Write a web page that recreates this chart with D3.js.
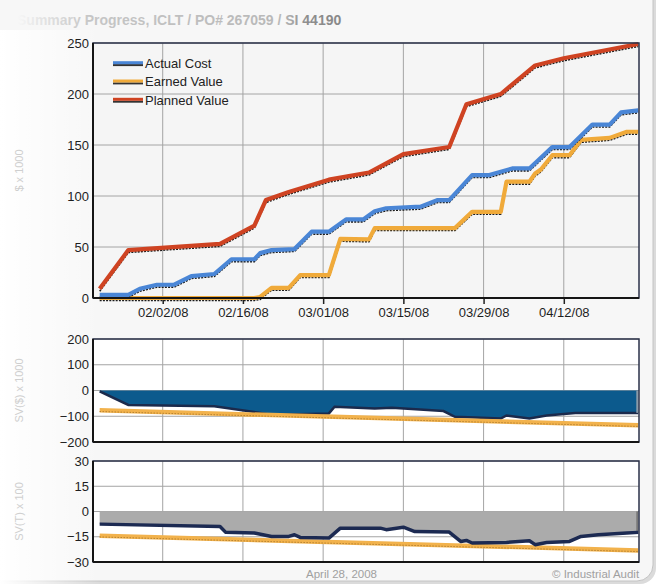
<!DOCTYPE html>
<html>
<head>
<meta charset="utf-8">
<script src="https://cdn.jsdelivr.net/npm/d3@7"></script>
<style>
  body { margin: 0; background: #fff; }
  svg { display: block; font-family: "Liberation Sans", Arial, sans-serif; }
</style>
</head>
<body>
<div id="chart"></div>
<script>
// ---- data ($ x 1000) ----
var actualCost = [["2008-01-22",3],["2008-01-27",3],["2008-01-29",9],["2008-02-01",13],["2008-02-04",13],
  ["2008-02-07",21.5],["2008-02-11",23.5],["2008-02-14",38],["2008-02-18",38],["2008-02-19",44],["2008-02-21",47],
  ["2008-02-25",48],["2008-02-28",65],["2008-03-02",65],["2008-03-05",77],["2008-03-08",77],["2008-03-10",85],
  ["2008-03-12",88],["2008-03-18",89.5],["2008-03-21",96],["2008-03-23",96],["2008-03-27",120.5],["2008-03-30",120.5],
  ["2008-04-03",127],["2008-04-06",127],["2008-04-10",148],["2008-04-13",148],["2008-04-17",170],["2008-04-20",170],
  ["2008-04-22",182],["2008-04-25",184]];
var earnedValue = [["2008-01-22",0],["2008-02-18",0],["2008-02-19",1],["2008-02-21",10],["2008-02-24",10],
  ["2008-02-26",22.5],["2008-03-02",22.5],["2008-03-04",58],["2008-03-09",57.5],["2008-03-10",68.5],["2008-03-24",68.5],
  ["2008-03-27",84.5],["2008-04-01",84.5],["2008-04-02",114],["2008-04-06",114],["2008-04-07",122],["2008-04-08",126],
  ["2008-04-10",140],["2008-04-13",140],["2008-04-15",155],["2008-04-20",157],["2008-04-23",163],["2008-04-25",163]];
var plannedValue = [["2008-01-22",9],["2008-01-27",47],["2008-02-12",53],["2008-02-18",71],["2008-02-20",96],
  ["2008-02-24",104],["2008-03-02",116],["2008-03-09",123],["2008-03-15",141],["2008-03-23",148],["2008-03-26",190],
  ["2008-04-01",200],["2008-04-07",228],["2008-04-12",235],["2008-04-25",249]];

// schedule variance, $ x 1000
var svDollar = [["2008-01-22",-3],["2008-01-27",-56],["2008-02-11",-61],["2008-02-19",-87],["2008-02-21",-95],
  ["2008-02-24",-93],["2008-03-02",-89],["2008-03-03",-63],["2008-03-10",-70],["2008-03-13",-67],["2008-03-22",-80],
  ["2008-03-24",-102],["2008-04-01",-109],["2008-04-02",-97],["2008-04-06",-109],["2008-04-09",-97],
  ["2008-04-14",-87],["2008-04-25",-87]];
var svDollarTrend = [["2008-01-22",-77],["2008-04-25",-135]];

// schedule variance, time x 100
var svTime = [["2008-01-22",-7.5],["2008-02-12",-8.9],["2008-02-13",-12.4],["2008-02-18",-12.8],["2008-02-21",-14.8],
  ["2008-02-24",-14.8],["2008-02-25",-13.8],["2008-02-26",-15.4],["2008-03-02",-15.8],["2008-03-04",-9.9],
  ["2008-03-11",-9.9],["2008-03-12",-10.8],["2008-03-15",-9.3],["2008-03-17",-11.9],["2008-03-23",-12.2],
  ["2008-03-25",-17.8],["2008-03-26",-17.2],["2008-03-27",-18.7],["2008-04-02",-18.4],["2008-04-06",-17.4],
  ["2008-04-07",-19.7],["2008-04-09",-18.4],["2008-04-13",-17.8],["2008-04-15",-14.8],["2008-04-18",-13.8],
  ["2008-04-23",-12.8],["2008-04-25",-12.4]];
var svTimeTrend = [["2008-01-22",-14.4],["2008-04-25",-23.1]];

var xTicks = ["2008-02-02","2008-02-16","2008-03-01","2008-03-15","2008-03-29","2008-04-12"];
var mainTicks = [0, 50, 100, 150, 200, 250];
var svDollarTicks = [200, 100, 0, -100, -200];
var svTimeTicks = [30, 15, 0, -15, -30];
var legendNames = ["Actual Cost", "Earned Value", "Planned Value"];
var legendColors = ["#4a86d6", "#f0aa3a", "#cf4322"];

// ---- setup ----
var parse = d3.timeParse("%Y-%m-%d");
var W = 664, H = 588;

var svg = d3.select("#chart").append("svg")
    .attr("width", W)
    .attr("height", H);
var defs = svg.append("defs");

// card background
svg.append("rect").attr("width", W).attr("height", H).attr("fill", "#fff");
svg.append("rect")
    .attr("x", -18).attr("y", -18).attr("width", 674).attr("height", 602).attr("rx", 16)
    .attr("fill", "#999").attr("opacity", 0.35);
svg.append("rect")
    .attr("x", -20).attr("y", -20).attr("width", 673).attr("height", 601).attr("rx", 16)
    .attr("fill", "#f7f7f7").attr("stroke", "#c4c4c4");

// title with fading colour
var tg = defs.append("linearGradient").attr("id", "titleGrad")
    .attr("gradientUnits", "userSpaceOnUse").attr("x1", 10).attr("x2", 410).attr("y1", 0).attr("y2", 0);
[[0, "#fdfdfd"], [0.07, "#e6e6e6"], [0.2, "#c6c6c6"], [0.68, "#b8b8b8"], [0.74, "#8e8e8e"], [1, "#7c7c7c"]]
    .forEach(s => tg.append("stop").attr("offset", s[0]).attr("stop-color", s[1]));
svg.append("text")
    .attr("x", 17).attr("y", 25)
    .style("font-size", "14px").style("font-weight", "bold")
    .attr("fill", "url(#titleGrad)")
    .text("Summary Progress, ICLT / PO# 267059 / SI 44190");

// left white fade
var fg = defs.append("linearGradient").attr("id", "fade");
fg.append("stop").attr("offset", 0).attr("stop-color", "#fff").attr("stop-opacity", 1);
fg.append("stop").attr("offset", 1).attr("stop-color", "#fff").attr("stop-opacity", 0);
svg.append("rect").attr("x", 0).attr("y", 30).attr("width", 100).attr("height", 560).attr("fill", "url(#fade)");

// footer clip, the card cuts the credit line
defs.append("clipPath").attr("id", "footClip")
    .append("rect").attr("x", 0).attr("y", 0).attr("width", 640).attr("height", H);

// scales
var x = d3.scaleTime()
    .domain([new Date(2008, 0, 20, 20), new Date(2008, 3, 25, 3)])
    .range([93, 639]);
var yMain = d3.scaleLinear().domain([0, 250]).range([298, 43]);
var ySv = d3.scaleLinear().domain([-200, 200]).range([442, 339]);
var ySt = d3.scaleLinear().domain([-30, 30]).range([562, 461]);

var x0 = x.range()[0], x1 = x.range()[1];

function panel(y, ticks, bg) {
    var top = y.range()[1], bottom = y.range()[0];
    var g = svg.append("g");
    g.append("rect")
        .attr("x", x0).attr("y", top).attr("width", x1 - x0).attr("height", bottom - top)
        .attr("fill", bg);
    g.selectAll(null).data(ticks).enter().append("line")
        .attr("x1", x0).attr("x2", x1)
        .attr("y1", d => y(d)).attr("y2", d => y(d))
        .attr("stroke", "#a4a4a4").attr("stroke-width", 1);
    g.selectAll(null).data(xTicks).enter().append("line")
        .attr("x1", d => x(parse(d))).attr("x2", d => x(parse(d)))
        .attr("y1", top).attr("y2", bottom)
        .attr("stroke", "#a4a4a4").attr("stroke-width", 1);
    var ax = g.append("g")
        .attr("transform", "translate(" + x0 + ",0)")
        .call(d3.axisLeft(y).tickValues(ticks).tickSize(0).tickPadding(4));
    ax.select(".domain").remove();
    ax.selectAll("text").style("font-size", "13px").style("fill", "#1e1e1e").style("font-family", "Liberation Sans, Arial");
    return g;
}

function border(g, y) {
    var top = y.range()[1], bottom = y.range()[0];
    g.append("rect")
        .attr("x", x0).attr("y", top).attr("width", x1 - x0).attr("height", bottom - top)
        .attr("fill", "none").attr("stroke", "#2a3048").attr("stroke-width", 1.5);
    g.append("line").attr("x1", x0).attr("x2", x0).attr("y1", top).attr("y2", bottom)
        .attr("stroke", "#151515").attr("stroke-width", 2);
    g.append("line").attr("x1", x0).attr("x2", x1).attr("y1", bottom).attr("y2", bottom)
        .attr("stroke", "#151515").attr("stroke-width", 2);
}

// ---- main panel ----
var gMain = panel(yMain, mainTicks, "#f5f5f5");

var xAxis = gMain.append("g")
    .attr("transform", "translate(0," + yMain.range()[0] + ")")
    .call(d3.axisBottom(x).tickValues(xTicks.map(parse)).tickFormat(d3.timeFormat("%m/%d/%y")).tickSize(6).tickPadding(4));
xAxis.select(".domain").remove();
xAxis.selectAll("line").attr("stroke", "#222").attr("stroke-width", 1.5);
xAxis.selectAll("text").style("font-size", "13px").style("fill", "#1e1e1e").style("font-family", "Liberation Sans, Arial");

var lineMain = d3.line().x(d => x(parse(d[0]))).y(d => yMain(d[1]));

function costLine(pts, color) {
    gMain.append("path")
        .attr("d", lineMain(pts))
        .attr("transform", "translate(0,2.4)")
        .attr("fill", "none").attr("stroke", "#1a1a1a").attr("stroke-width", 1.6)
        .attr("stroke-dasharray", "2,1.2");
    gMain.append("path")
        .attr("d", lineMain(pts))
        .attr("fill", "none").attr("stroke", color).attr("stroke-width", 4.2)
        .attr("stroke-linejoin", "round");
}
costLine(earnedValue, legendColors[1]);
costLine(actualCost, legendColors[0]);
costLine(plannedValue, legendColors[2]);
border(gMain, yMain);

// legend
var legend = gMain.selectAll(".legend").data(legendNames).enter().append("g")
    .attr("transform", (d, i) => "translate(113," + (63.5 + i * 18.3) + ")");
legend.append("line").attr("x1", 0).attr("x2", 30).attr("y1", 1.6).attr("y2", 1.6)
    .attr("stroke", "#333").attr("stroke-width", 2);
legend.append("line").attr("x1", 0).attr("x2", 30).attr("y1", -0.8).attr("y2", -0.8)
    .attr("stroke", (d, i) => legendColors[i]).attr("stroke-width", 3);
legend.append("text")
    .attr("x", 32).attr("y", 4.5)
    .style("font-size", "13px").style("fill", "#222")
    .text(d => d);

// ---- SV($) panel ----
var gSv = panel(ySv, svDollarTicks, "#ffffff");
var areaSv = d3.area().x(d => x(parse(d[0]))).y0(ySv(0)).y1(d => ySv(d[1]));
var lineSv = d3.line().x(d => x(parse(d[0]))).y(d => ySv(d[1]));
gSv.append("path").attr("d", areaSv(svDollar)).attr("fill", "#0c5a8d");
gSv.append("path").attr("d", lineSv(svDollar)).attr("fill", "none")
    .attr("stroke", "#1b2a4c").attr("stroke-width", 2.5);
var lastSv = svDollar[svDollar.length - 1];
gSv.append("line")
    .attr("x1", x(parse(lastSv[0])) - 1).attr("x2", x(parse(lastSv[0])) - 1)
    .attr("y1", ySv(0)).attr("y2", ySv(lastSv[1]))
    .attr("stroke", "#8a9aa8").attr("stroke-width", 2);
gSv.append("path").attr("d", lineSv(svDollarTrend)).attr("fill", "none")
    .attr("stroke", "#f2b24c").attr("stroke-width", 4.5);
gSv.append("path").attr("d", lineSv(svDollarTrend)).attr("fill", "none")
    .attr("transform", "translate(0,1.2)")
    .attr("stroke", "#9a6a20").attr("stroke-width", 1).attr("stroke-dasharray", "1,2");
border(gSv, ySv);

// ---- SV(T) panel ----
var gSt = panel(ySt, svTimeTicks, "#ffffff");
var areaSt = d3.area().x(d => x(parse(d[0]))).y0(ySt(0)).y1(d => ySt(d[1]));
var lineSt = d3.line().x(d => x(parse(d[0]))).y(d => ySt(d[1]));
gSt.append("path").attr("d", areaSt(svTime)).attr("fill", "#ababab");
var lastSt = svTime[svTime.length - 1];
gSt.append("line")
    .attr("x1", x(parse(lastSt[0])) - 1).attr("x2", x(parse(lastSt[0])) - 1)
    .attr("y1", ySt(0)).attr("y2", ySt(lastSt[1]))
    .attr("stroke", "#777").attr("stroke-width", 2);
gSt.append("path").attr("d", lineSt(svTimeTrend)).attr("fill", "none")
    .attr("stroke", "#f2b24c").attr("stroke-width", 4.5);
gSt.append("path").attr("d", lineSt(svTimeTrend)).attr("fill", "none")
    .attr("transform", "translate(0,1.2)")
    .attr("stroke", "#9a6a20").attr("stroke-width", 1).attr("stroke-dasharray", "1,2");
gSt.append("path").attr("d", lineSt(svTime)).attr("fill", "none")
    .attr("stroke", "#1c2a52").attr("stroke-width", 3.5).attr("stroke-linejoin", "round");
border(gSt, ySt);

// ---- axis titles ----
function yTitle(text, y) {
    var cy = (y.range()[0] + y.range()[1]) / 2;
    svg.append("text")
        .attr("transform", "translate(23," + cy + ") rotate(-90)")
        .attr("text-anchor", "middle")
        .style("font-size", "11px").style("fill", "#cfcfcf")
        .text(text);
}
yTitle("$ x 1000", yMain);
yTitle("SV($) x 1000", ySv);
yTitle("SV(T) x 100", ySt);

// ---- footer ----
var foot = svg.append("g").attr("clip-path", "url(#footClip)");
foot.append("text")
    .attr("x", 306).attr("y", 578)
    .style("font-size", "11.5px").style("fill", "#a0a0a0")
    .text("April 28, 2008");
foot.append("text")
    .attr("x", 552).attr("y", 578)
    .style("font-size", "11.5px").style("fill", "#a0a0a0")
    .text("\u00a9 Industrial Audit");
</script>
</body>
</html>
